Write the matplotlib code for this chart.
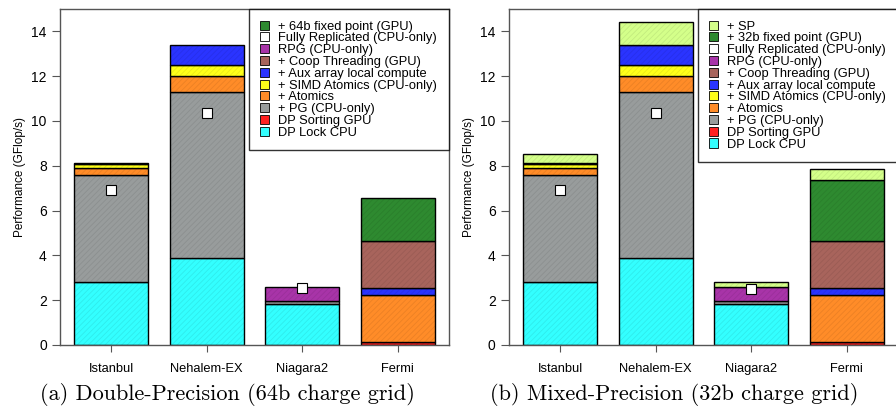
import numpy as np
import matplotlib
matplotlib.use('Agg')
from matplotlib import pyplot as plt
from matplotlib.patches import Patch

plt.rcParams['font.family'] = ['Liberation Sans', 'DejaVu Sans']
plt.rcParams['hatch.linewidth'] = 0.6

machines = ['Istanbul', 'Nehalem-EX', 'Niagara2', 'Fermi']

# stacked increments, bottom to top
seg_names = ['DP Lock CPU', 'DP Sorting GPU', '+ PG (CPU-only)', '+ Atomics',
             '+ SIMD Atomics (CPU-only)', '+ Aux array local compute',
             '+ Coop Threading (GPU)', 'RPG (CPU-only)']
seg_colors = ['#33ffff', '#ff2020', '#989c9c', '#ff8c28', '#ffff1a',
              '#2a34ff', '#a8645c', '#a834a8']

dp_lock = [2.8, 3.9, 1.82, 0.0]
dp_sort = [0.0, 0.0, 0.0, 0.12]
pg = [4.8, 7.4, 0.13, 0.0]
atomics = [0.3, 0.7, 0.0, 2.13]
simd = [0.2, 0.5, 0.0, 0.0]
aux = [0.03, 0.9, 0.0, 0.3]
coop = [0.0, 0.0, 0.0, 2.1]
rpg = [0.0, 0.0, 0.65, 0.0]

fixed64 = [0.0, 0.0, 0.0, 1.9]
fixed32 = [0.0, 0.0, 0.0, 2.7]
sp = [0.4, 1.0, 0.2, 0.5]

repl_dp = [6.9, 10.35, 2.55, np.nan]
repl_mp = [6.9, 10.35, 2.5, np.nan]

fixed_color = '#2e8a30'
sp_color = '#d4ff8a'

yticks = [0, 2, 4, 6, 8, 10, 12, 14]
captions = ['(a) Double-Precision (64b charge grid)',
            '(b) Mixed-Precision (32b charge grid)']


def draw(ax, segs, colors, repl):
    x = np.arange(len(machines))
    bottom = np.zeros(len(machines))
    for vals, c in zip(segs, colors):
        vals = np.array(vals)
        m = vals > 0
        ax.bar(x[m], vals[m], 0.775, bottom=bottom[m], color=c,
               edgecolor='black', linewidth=1.0, zorder=2)
        ax.bar(x[m], vals[m], 0.775, bottom=bottom[m], fill=False,
               hatch='//////', edgecolor=(0, 0, 0, 0.08), linewidth=0, zorder=3)
        bottom = bottom + vals
    ax.plot(x, repl, 's', ms=7, mfc='white', mec='black', mew=0.8, zorder=4)

    ax.set_xlim(-0.534, 3.534)
    ax.set_ylim(0, 15)
    ax.set_xticks(x)
    ax.set_xticklabels(machines, fontsize=9.3)
    ax.set_yticks(yticks)
    ax.tick_params(axis='y', labelsize=10, length=5.5, color='#555555', pad=4)
    ax.tick_params(axis='x', length=5, color='#555555', pad=8)
    for s in ax.spines.values():
        s.set_color('#555555')
        s.set_linewidth(1.0)
    ax.set_ylabel('Performance (GFlop/s)', fontsize=8.5, labelpad=4)


def legend_for(ax, names, colors, pos):
    hs = [Patch(facecolor=c, edgecolor='black', linewidth=0.6, label=n)
          for c, n in zip(colors, names)]
    # legend lists top segment first
    hs = hs[::-1]
    hs.insert(pos, Patch(facecolor='white', edgecolor='black', linewidth=0.6,
                         label='Fully Replicated (CPU-only)'))
    leg = ax.legend(handles=hs, loc='upper right', fontsize=9.3, frameon=True,
                    fancybox=False, borderaxespad=0, handlelength=0.7,
                    handleheight=0.7, handletextpad=0.7, labelspacing=-0.02,
                    borderpad=0.9)
    leg.get_frame().set_edgecolor('black')
    leg.get_frame().set_linewidth(1.0)


fig = plt.figure(figsize=(8.96, 4.11), dpi=100)
ax1 = fig.add_axes([0.067, 0.1606, 0.434, 0.8175])
ax2 = fig.add_axes([0.568, 0.1606, 0.434, 0.8175])

segs_a = [dp_lock, dp_sort, pg, atomics, simd, aux, coop, rpg, fixed64]
cols_a = seg_colors + [fixed_color]
segs_b = [dp_lock, dp_sort, pg, atomics, simd, aux, coop, rpg, fixed32, sp]
cols_b = seg_colors + [fixed_color, sp_color]

draw(ax1, segs_a, cols_a, repl_dp)
draw(ax2, segs_b, cols_b, repl_mp)

legend_for(ax1, seg_names + ['+ 64b fixed point (GPU)'], cols_a, 1)
legend_for(ax2, seg_names + ['+ 32b fixed point (GPU)', '+ SP'], cols_b, 2)

fig.text(0.254, 0.04, captions[0], family='cmr10', fontsize=16, ha='center', va='center')
fig.text(0.752, 0.04, captions[1], family='cmr10', fontsize=16, ha='center', va='center')

fig.savefig('out.png', dpi=100)
